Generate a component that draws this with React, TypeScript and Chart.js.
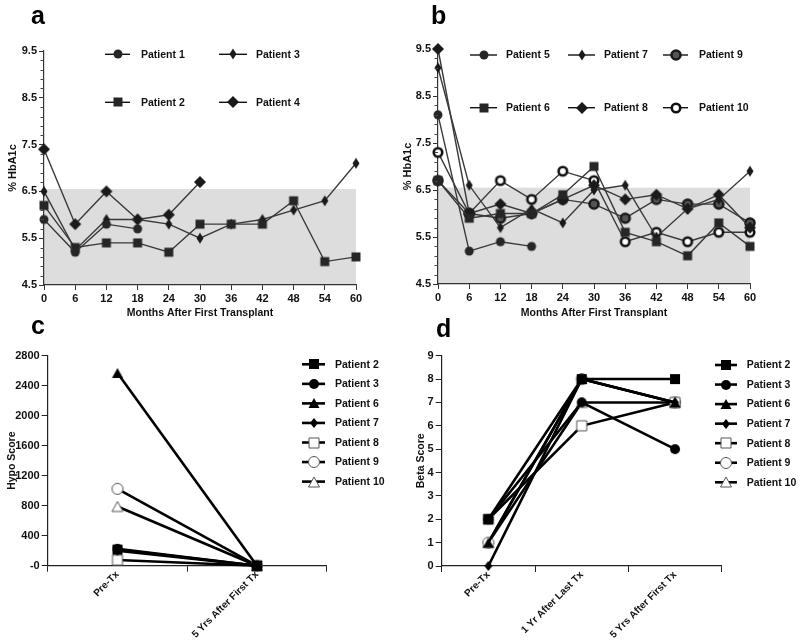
import React, { useEffect, useRef } from "react";
import { Chart, registerables } from "chart.js";

Chart.register(...registerables);

// ---------- data ----------
const MONTHS = [0, 6, 12, 18, 24, 30, 36, 42, 48, 54, 60];
const HBA1C_TICK_MIN = 4.5;
const HBA1C_TICK_MAX = 9.5;
const TARGET_LOW = 4.5;
const TARGET_HIGH = 6.55;

// panel a
const P1_HBA1C = [5.9, 5.2, 5.8, 5.7];
const P2_HBA1C = [6.2, 5.3, 5.4, 5.4, 5.2, 5.8, 5.8, 5.8, 6.3, 5.0, 5.1];
const P3_HBA1C = [6.5, 5.25, 5.9, 5.9, 5.8, 5.5, 5.8, 5.9, 6.1, 6.3, 7.1];
const P4_HBA1C = [7.4, 5.8, 6.5, 5.9, 6.0, 6.7];

// panel b
const P5_HBA1C = [8.1, 5.2, 5.4, 5.3];
const P6_HBA1C = [6.7, 5.9, 6.0, 6.0, 6.4, 7.0, 5.6, 5.4, 5.1, 5.8, 5.3];
const P7_HBA1C = [9.1, 6.6, 5.7, 6.1, 5.8, 6.5, 6.6, 5.5, 6.1, 6.3, 6.9];
const P8_HBA1C = [9.5, 6.0, 6.2, 6.0, 6.3, 6.6, 6.3, 6.4, 6.1, 6.4, 5.7];
const P9_HBA1C = [6.7, 6.0, 5.9, 6.0, 6.3, 6.2, 5.9, 6.3, 6.2, 6.2, 5.8];
const P10_HBA1C = [7.3, 6.0, 6.7, 6.3, 6.9, 6.7, 5.4, 5.6, 5.4, 5.6, 5.6];

// panel c
const HYPO_CATS = ["Pre-Tx", "5 Yrs After First Tx"];
const P2_HYPO = [215, 0];
const P3_HYPO = [225, 0];
const P6_HYPO = [2570, 0];
const P7_HYPO = [200, 0];
const P8_HYPO = [75, 0];
const P9_HYPO = [1025, 0];
const P10_HYPO = [790, 0];

// panel d
const BETA_CATS = ["Pre-Tx", "1 Yr After Last Tx", "5 Yrs After First Tx"];
const P2_BETA = [2, 8, 8];
const P3_BETA = [2, 7, 5];
const P6_BETA = [1, 8, 7];
const P7_BETA = [0, 8, 7];
const P8_BETA = [2, 6, 7];
const P9_BETA = [1, 8, 7];
const P10_BETA = [1, 7, 7];

// ---------- styling helpers ----------
const FONT = "'Liberation Sans', Arial, Helvetica, sans-serif";

function makeMarker(shape: string, w: number, h: number, fill: string, stroke: string, lw: number) {
  const pad = Math.ceil(lw) + 1;
  const c = document.createElement("canvas");
  c.width = Math.ceil(w + 2 * pad);
  c.height = Math.ceil(h + 2 * pad);
  if (c.width % 2) c.width += 1;
  if (c.height % 2) c.height += 1;
  const ctx = c.getContext("2d")!;
  const cx = c.width / 2;
  const cy = c.height / 2;
  ctx.beginPath();
  if (shape === "circle") {
    ctx.arc(cx, cy, w / 2, 0, Math.PI * 2);
  } else if (shape === "square") {
    ctx.rect(cx - w / 2, cy - h / 2, w, h);
  } else if (shape === "diamond") {
    ctx.moveTo(cx, cy - h / 2);
    ctx.lineTo(cx + w / 2, cy);
    ctx.lineTo(cx, cy + h / 2);
    ctx.lineTo(cx - w / 2, cy);
    ctx.closePath();
  } else if (shape === "triangle") {
    ctx.moveTo(cx, cy - h / 2);
    ctx.lineTo(cx + w / 2, cy + h / 2);
    ctx.lineTo(cx - w / 2, cy + h / 2);
    ctx.closePath();
  }
  ctx.fillStyle = fill;
  ctx.fill();
  if (lw > 0) {
    ctx.lineWidth = lw;
    ctx.strokeStyle = stroke;
    ctx.stroke();
  }
  return c;
}

const bandPlugin = {
  id: "band",
  beforeDraw(chart: any, _args: any, opts: any) {
    if (!opts || !opts.show) return;
    const { x, y } = chart.scales;
    const ctx = chart.ctx;
    const l = x.getPixelForValue(opts.x0);
    const r = x.getPixelForValue(opts.x1);
    const t = y.getPixelForValue(opts.y1);
    const b = y.getPixelForValue(opts.y0);
    ctx.save();
    ctx.fillStyle = opts.color;
    ctx.fillRect(l, t, r - l, b - t);
    ctx.restore();
  },
};

const minorTickPlugin = {
  id: "minorTicks",
  afterDraw(chart: any, _args: any, opts: any) {
    if (!opts || !opts.step) return;
    const y = chart.scales.y;
    const ctx = chart.ctx;
    const left = chart.chartArea.left;
    const n = Math.round((y.max - y.min) / opts.step);
    ctx.save();
    ctx.strokeStyle = opts.color;
    ctx.lineWidth = 1;
    for (let i = 0; i <= n; i++) {
      if (i % opts.every === 0) continue;
      const v = y.min + i * opts.step;
      const py = Math.round(y.getPixelForValue(v)) + 0.5;
      ctx.beginPath();
      ctx.moveTo(left - opts.len, py);
      ctx.lineTo(left, py);
      ctx.stroke();
    }
    ctx.restore();
  },
};

const legendPlugin = {
  id: "patLegend",
  afterDraw(chart: any, _args: any, opts: any) {
    if (!opts || !opts.slots) return;
    const ctx = chart.ctx;
    ctx.save();
    chart.data.datasets.forEach((ds: any, i: number) => {
      const s = opts.slots[i];
      if (!s) return;
      ctx.strokeStyle = opts.lineColor;
      ctx.lineWidth = opts.lineWidth;
      ctx.beginPath();
      ctx.moveTo(s[0], s[3]);
      ctx.lineTo(s[1], s[3]);
      ctx.stroke();
      const m = ds.pointStyle;
      if (m && m.width) {
        ctx.drawImage(m, Math.round((s[0] + s[1]) / 2 - m.width / 2), Math.round(s[3] - m.height / 2));
      }
      ctx.fillStyle = opts.color;
      ctx.font = opts.font;
      ctx.textBaseline = "middle";
      ctx.textAlign = "left";
      ctx.fillText(ds.label, s[2], s[3] + 0.5);
    });
    ctx.restore();
  },
};

function hbDataset(label: string, values: number[], marker: any) {
  return {
    label,
    data: values.map((v, i) => ({ x: MONTHS[i], y: v })),
    borderColor: "#3a3a3a",
    borderWidth: 1.4,
    pointStyle: marker,
    pointRadius: 6,
    tension: 0,
    fill: false,
    clip: false,
  };
}

function scoreDataset(label: string, values: number[], marker: any) {
  return {
    label,
    data: values,
    borderColor: "#000",
    borderWidth: 2.6,
    pointStyle: marker,
    pointRadius: 6,
    tension: 0,
    fill: false,
    clip: false,
  };
}

function hbOptions(axisW: number, xAxisH: number, pad: any, slots: number[][], yTitlePad: number) {
  return {
    animation: false,
    responsive: false,
    maintainAspectRatio: false,
    events: [],
    layout: { padding: pad, autoPadding: false },
    plugins: {
      legend: { display: false },
      tooltip: { enabled: false },
      band: { show: true, x0: MONTHS[0], x1: MONTHS[MONTHS.length - 1], y0: TARGET_LOW, y1: TARGET_HIGH, color: "#dddddd" },
      minorTicks: { step: 0.2, every: 5, len: 3.5, color: "#444" },
      patLegend: { slots, lineColor: "#111", lineWidth: 1.4, color: "#111", font: `bold 10.5px ${FONT}` },
    },
    scales: {
      x: {
        type: "linear",
        min: MONTHS[0],
        max: MONTHS[MONTHS.length - 1],
        afterBuildTicks: (s: any) => {
          s.ticks = MONTHS.map((m) => ({ value: m }));
        },
        ticks: { color: "#111", font: { family: FONT, weight: "bold", size: 11 }, padding: 2, maxRotation: 0, autoSkip: false },
        grid: { drawOnChartArea: false, tickLength: 5, color: "#333", tickColor: "#333" },
        border: { color: "#333", width: 1.2 },
        title: {
          display: true,
          text: "Months After First Transplant",
          color: "#111",
          font: { family: FONT, weight: "bold", size: 10.5 },
          padding: { top: 0, bottom: 2.5 },
        },
        afterFit: (s: any) => {
          s.height = xAxisH;
        },
      },
      y: {
        type: "linear",
        min: HBA1C_TICK_MIN,
        max: HBA1C_TICK_MAX,
        ticks: { stepSize: 1, color: "#111", font: { family: FONT, weight: "bold", size: 11 }, padding: 2 },
        grid: { drawOnChartArea: false, tickLength: 5, color: "#333", tickColor: "#333" },
        border: { color: "#333", width: 1.2 },
        title: {
          display: true,
          text: "% HbA1c",
          color: "#111",
          font: { family: FONT, weight: "bold", size: 11 },
          padding: { top: yTitlePad, bottom: 0 },
        },
        afterFit: (s: any) => {
          s.width = axisW;
        },
      },
    },
  };
}

function scoreOptions(
  axisW: number,
  xAxisH: number,
  pad: any,
  slots: number[][],
  yMax: number,
  yStep: number,
  yTitle: string,
  yTitlePad: number,
  zeroLabel: string
) {
  return {
    animation: false,
    responsive: false,
    maintainAspectRatio: false,
    events: [],
    layout: { padding: pad, autoPadding: false },
    plugins: {
      legend: { display: false },
      tooltip: { enabled: false },
      patLegend: { slots, lineColor: "#000", lineWidth: 2.6, color: "#111", font: `bold 10.5px ${FONT}` },
    },
    scales: {
      x: {
        type: "category",
        offset: true,
        ticks: {
          color: "#111",
          font: { family: FONT, weight: "bold", size: 10 },
          padding: -3,
          minRotation: 45,
          maxRotation: 45,
          autoSkip: false,
        },
        grid: { drawOnChartArea: false, offset: true, tickLength: 6, color: "#222", tickColor: "#222" },
        border: { color: "#222", width: 1.2 },
        afterFit: (s: any) => {
          s.height = xAxisH;
        },
      },
      y: {
        type: "linear",
        min: 0,
        max: yMax,
        ticks: {
          stepSize: yStep,
          color: "#111",
          font: { family: FONT, weight: "bold", size: 11 },
          padding: 2,
          callback: (v: any) => (v === 0 ? zeroLabel : String(v)),
        },
        grid: { drawOnChartArea: false, tickLength: 6, color: "#222", tickColor: "#222" },
        border: { color: "#222", width: 1.2 },
        title: {
          display: true,
          text: yTitle,
          color: "#111",
          font: { family: FONT, weight: "bold", size: 10.5 },
          padding: { top: yTitlePad, bottom: 0 },
        },
        afterFit: (s: any) => {
          s.width = axisW;
        },
      },
    },
  };
}

function buildConfigs() {
  // markers for HbA1c panels
  const mCircle = makeMarker("circle", 9, 9, "#262626", "#262626", 0);
  const mSquare = makeMarker("square", 9, 9, "#262626", "#262626", 0);
  const mNarrow = makeMarker("diamond", 7, 11, "#1a1a1a", "#1a1a1a", 0);
  const mBigDia = makeMarker("diamond", 12, 12, "#1a1a1a", "#1a1a1a", 0);
  const mRing = makeMarker("circle", 9, 9, "#555", "#1a1a1a", 2.6);
  const mOpenThick = makeMarker("circle", 8.5, 8.5, "#fff", "#111", 2.6);

  // markers for score panels
  const sSquare = makeMarker("square", 10, 10, "#000", "#000", 0);
  const sCircle = makeMarker("circle", 10, 10, "#000", "#000", 0);
  const sTri = makeMarker("triangle", 11, 10, "#000", "#000", 0);
  const sDia = makeMarker("diamond", 8, 10, "#000", "#000", 0);
  const sOpenSq = makeMarker("square", 10, 10, "#fff", "#555", 1);
  const sOpenCirc = makeMarker("circle", 11, 11, "#fff", "#555", 1);
  const sOpenTri = makeMarker("triangle", 11, 10, "#fff", "#555", 1);

  const a = {
    type: "line",
    data: {
      datasets: [
        hbDataset("Patient 1", P1_HBA1C, mCircle),
        hbDataset("Patient 2", P2_HBA1C, mSquare),
        hbDataset("Patient 3", P3_HBA1C, mNarrow),
        hbDataset("Patient 4", P4_HBA1C, mBigDia),
      ],
    },
    options: hbOptions(44, 37, { top: 51, right: 44, left: 0, bottom: 0 }, [
      [105, 130, 141, 54.3],
      [105, 130, 141, 102.3],
      [219, 247, 256, 54.3],
      [219, 247, 256, 102.3],
    ], 6.4),
    plugins: [bandPlugin, minorTickPlugin, legendPlugin],
  };

  const b = {
    type: "line",
    data: {
      datasets: [
        hbDataset("Patient 5", P5_HBA1C, mCircle),
        hbDataset("Patient 6", P6_HBA1C, mSquare),
        hbDataset("Patient 7", P7_HBA1C, mNarrow),
        hbDataset("Patient 8", P8_HBA1C, mBigDia),
        hbDataset("Patient 9", P9_HBA1C, mRing),
        hbDataset("Patient 10", P10_HBA1C, mOpenThick),
      ],
    },
    options: hbOptions(38, 38, { top: 49, right: 50, left: 0, bottom: 0 }, [
      [70, 97, 106, 55],
      [70, 97, 106, 107.7],
      [168, 195, 204, 55],
      [168, 195, 204, 107.7],
      [263, 288, 299, 55],
      [263, 288, 299, 107.7],
    ], 1.4),
    plugins: [bandPlugin, minorTickPlugin, legendPlugin],
  };

  const cSlots = [0, 1, 2, 3, 4, 5, 6].map((i) => [302, 325, 335, 42.3 + i * 19.55]);
  const c = {
    type: "line",
    data: {
      labels: HYPO_CATS,
      datasets: [
        scoreDataset("Patient 2", P2_HYPO, sSquare),
        scoreDataset("Patient 3", P3_HYPO, sCircle),
        scoreDataset("Patient 6", P6_HYPO, sTri),
        scoreDataset("Patient 7", P7_HYPO, sDia),
        scoreDataset("Patient 8", P8_HYPO, sOpenSq),
        scoreDataset("Patient 9", P9_HYPO, sOpenCirc),
        scoreDataset("Patient 10", P10_HYPO, sOpenTri),
      ],
    },
    options: scoreOptions(47.7, 78.3, { top: 33.7, right: 73.3, left: 0, bottom: 0 }, cSlots, 2800, 400, "Hypo Score", 6.2, "-0"),
    plugins: [legendPlugin],
  };

  const dSlots = [0, 1, 2, 3, 4, 5, 6].map((i) => [315, 337, 346.7, 43 + i * 19.55]);
  const d = {
    type: "line",
    data: {
      labels: BETA_CATS,
      datasets: [
        scoreDataset("Patient 2", P2_BETA, sSquare),
        scoreDataset("Patient 3", P3_BETA, sCircle),
        scoreDataset("Patient 6", P6_BETA, sTri),
        scoreDataset("Patient 7", P7_BETA, sDia),
        scoreDataset("Patient 8", P8_BETA, sOpenSq),
        scoreDataset("Patient 9", P9_BETA, sOpenCirc),
        scoreDataset("Patient 10", P10_BETA, sOpenTri),
      ],
    },
    options: scoreOptions(41.7, 78, { top: 33.7, right: 78.3, left: 0, bottom: 0 }, dSlots, 9, 1, "Beta Score", 14.7, "0"),
    plugins: [legendPlugin],
  };
  return [a, b, c, d];
}

const PANELS = [
  { left: 0, top: 0, width: 400, height: 322, letter: "a", lx: 31, ly: 3 },
  { left: 400, top: 0, width: 400, height: 322, letter: "b", lx: 431, ly: 3 },
  { left: 0, top: 322, width: 400, height: 322, letter: "c", lx: 31, ly: 313 },
  { left: 400, top: 322, width: 400, height: 322, letter: "d", lx: 436, ly: 316 },
];

export default function App() {
  const refs = [useRef<HTMLCanvasElement>(null), useRef<HTMLCanvasElement>(null), useRef<HTMLCanvasElement>(null), useRef<HTMLCanvasElement>(null)];
  useEffect(() => {
    const cfgs = buildConfigs();
    const charts = cfgs.map((cfg, i) => new Chart(refs[i].current as HTMLCanvasElement, cfg as any));
    return () => charts.forEach((c) => c.destroy());
  }, []);
  return (
    <div style={{ position: "absolute", left: 0, top: 0, width: 800, height: 644, background: "#fff", overflow: "hidden" }}>
      {PANELS.map((p, i) => (
        <canvas
          key={p.letter}
          ref={refs[i]}
          width={p.width}
          height={p.height}
          style={{ position: "absolute", left: p.left, top: p.top, width: p.width, height: p.height }}
        />
      ))}
      {PANELS.map((p) => (
        <div
          key={"l" + p.letter}
          style={{
            position: "absolute",
            left: p.lx,
            top: p.ly,
            fontFamily: FONT,
            fontWeight: "bold",
            fontSize: 25,
            lineHeight: "25px",
            color: "#000",
          }}
        >
          {p.letter}
        </div>
      ))}
    </div>
  );
}
